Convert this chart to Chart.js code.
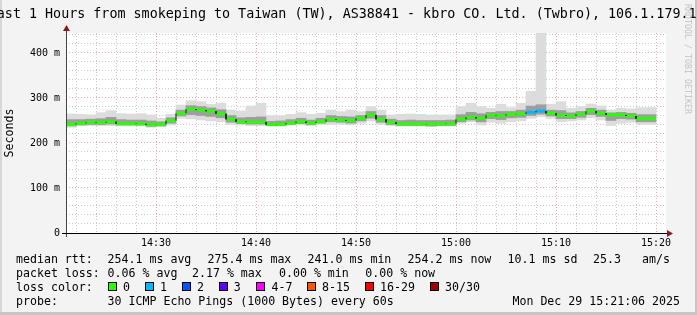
<!DOCTYPE html>
<html>
<head>
<meta charset="utf-8">
<script src="https://cdn.jsdelivr.net/npm/chart.js@4/dist/chart.umd.min.js"></script>
<style>
  body { margin: 0; background: #f3f3f3; }
  #wrap { position: relative; width: 697px; height: 315px; overflow: hidden;
          font-family: "DejaVu Sans Mono", monospace; color: #000; }
  #wrap canvas { position: absolute; left: 0; top: 0; }
  #title { position: absolute; left: -147.8px; width: 997px; top: 6px; text-align: center;
           font-size: 13.36px; line-height: 15px; white-space: pre; }
  #wm { position: absolute; left: 693px; top: 4px; font-size: 8.3px; line-height: 10px;
        color: #c4c4c4; white-space: pre; transform: rotate(90deg); transform-origin: left top; }
  .t { position: absolute; font-size: 11.6px; line-height: 14px; white-space: pre; }
  .sw { position: absolute; top: 282px; width: 7px; height: 7px; border: 1px solid #000; }
</style>
</head>
<body>
<div id="wrap">
  <canvas id="smokeChart" width="697" height="315"></canvas>
  <div id="title">Last 1 Hours from smokeping to Taiwan (TW), AS38841 - kbro CO. Ltd. (Twbro), 106.1.179.100</div>
  <div id="wm">RRDTOOL / TOBI OETIKER</div>

  <div class="t" style="top:252px;left:16px">median rtt:</div>
  <div class="t" style="top:252px;left:107.6px">254.1 ms avg</div>
  <div class="t" style="top:252px;left:207.6px">275.4 ms max</div>
  <div class="t" style="top:252px;left:307.6px">241.0 ms min</div>
  <div class="t" style="top:252px;left:407.6px">254.2 ms now</div>
  <div class="t" style="top:252px;left:507.6px">10.1 ms sd</div>
  <div class="t" style="top:252px;left:593px">25.3</div>
  <div class="t" style="top:252px;left:642px">am/s</div>

  <div class="t" style="top:266px;left:16px">packet loss:</div>
  <div class="t" style="top:266px;left:107.6px">0.06 % avg</div>
  <div class="t" style="top:266px;left:192px">2.17 % max</div>
  <div class="t" style="top:266px;left:279px">0.00 % min</div>
  <div class="t" style="top:266px;left:365.3px">0.00 % now</div>

  <div class="t" style="top:280px;left:16px">loss color:</div>
  <div id="lossLegend"></div>

  <div class="t" style="top:294px;left:16px">probe:</div>
  <div class="t" style="top:294px;left:107.6px">30 ICMP Echo Pings (1000 Bytes) every 60s</div>
  <div class="t" style="top:294px;right:17px">Mon Dec 29 15:21:06 2025</div>
</div>

<script>
// one sample per minute (step start time)
const times = [
  "14:21", "14:22", "14:23", "14:24", "14:25", "14:26", "14:27", "14:28", "14:29", "14:30",
  "14:31", "14:32", "14:33", "14:34", "14:35", "14:36", "14:37", "14:38", "14:39", "14:40",
  "14:41", "14:42", "14:43", "14:44", "14:45", "14:46", "14:47", "14:48", "14:49", "14:50",
  "14:51", "14:52", "14:53", "14:54", "14:55", "14:56", "14:57", "14:58", "14:59", "15:00",
  "15:01", "15:02", "15:03", "15:04", "15:05", "15:06", "15:07", "15:08", "15:09", "15:10",
  "15:11", "15:12", "15:13", "15:14", "15:15", "15:16", "15:17", "15:18", "15:19"
];

// median rtt (ms)
const median = [
  241.5, 243.7, 246.0, 245.2, 247.4, 243.0, 243.0, 242.5, 240.8, 241.5,
  249.7, 266.0, 275.4, 273.0, 270.5, 265.0, 252.6, 247.4, 246.5, 246.5,
  241.0, 241.5, 244.5, 247.4, 244.5, 247.4, 252.6, 251.1, 249.7, 254.8,
  262.3, 252.6, 246.0, 242.3, 242.3, 242.3, 242.0, 242.3, 243.0, 252.6,
  257.1, 254.8, 261.5, 260.8, 263.7, 264.5, 268.2, 271.1, 266.0, 261.5,
  260.0, 263.7, 270.4, 266.0, 262.3, 262.3, 260.0, 254.1, 254.2
];

// smoke: fastest / slowest ping of each round (ms)
const pingMin = [
  234.8, 238.6, 238.6, 238.6, 238.6, 238.6, 238.6, 238.6, 234.8, 236.3,
  240.0, 254.8, 253.4, 251.1, 248.9, 247.4, 241.5, 240.0, 238.6, 238.6,
  237.8, 237.8, 240.0, 240.0, 238.6, 241.5, 241.5, 241.5, 240.0, 243.7,
  248.9, 241.5, 238.6, 237.8, 237.8, 237.8, 236.3, 237.8, 237.8, 243.7,
  247.4, 240.0, 246.0, 243.7, 247.4, 248.9, 254.8, 258.5, 254.8, 247.4,
  248.9, 251.1, 256.3, 251.1, 238.6, 243.7, 246.0, 241.5, 241.5
];
const pingMax = [
  264.5, 263.7, 262.3, 267.4, 271.9, 265.2, 264.5, 265.2, 262.3, 254.8,
  263.7, 284.5, 294.1, 291.9, 286.0, 288.2, 273.4, 271.1, 282.3, 288.2,
  260.8, 260.8, 263.7, 267.4, 263.7, 266.0, 273.4, 269.7, 273.4, 269.7,
  280.8, 273.4, 262.3, 263.7, 264.5, 263.7, 262.3, 262.3, 262.3, 280.8,
  288.2, 280.8, 277.1, 286.0, 278.6, 288.2, 315.0, 520.0, 286.0, 291.9,
  277.1, 280.8, 286.7, 282.3, 273.4, 277.1, 275.6, 278.6, 278.6
];

// denser part of the smoke (ms)
const innerLo = [
  238, 240, 241, 241, 242, 240, 240, 240, 237, 238,
  244, 260, 263, 261, 259, 256, 246, 243, 242, 242,
  239, 239, 241, 243, 241, 244, 247, 246, 244, 249,
  255, 246, 241, 239, 239, 239, 238, 239, 239, 247,
  251, 247, 254, 252, 256, 257, 261, 264, 260, 254,
  254, 257, 263, 259, 250, 254, 253, 247, 247
];
const innerHi = [
  252, 252, 253, 254, 257, 252, 251, 251, 249, 247,
  256, 273, 283, 281, 278, 274, 261, 256, 257, 258,
  248, 249, 252, 255, 251, 255, 261, 259, 258, 261,
  270, 261, 253, 250, 251, 250, 250, 250, 251, 263,
  268, 265, 268, 270, 270, 273, 282, 285, 273, 272,
  267, 270, 277, 273, 267, 268, 266, 263, 263
];

// lost pings per round (of 30)
const lossCount = [
  0, 0, 0, 0, 0, 0, 0, 0, 0, 0,
  0, 0, 0, 0, 0, 0, 0, 0, 0, 0,
  0, 0, 0, 0, 0, 0, 0, 0, 0, 0,
  0, 0, 0, 0, 0, 0, 0, 0, 0, 0,
  0, 0, 0, 0, 0, 0, 1, 1, 0, 0,
  0, 0, 0, 0, 0, 0, 0, 0, 0
];

const lossLabels = ["0", "1", "2", "3", "4-7", "8-15", "16-29", "30/30"];
const lossColors = ["#26ff00", "#00b8ff", "#0059ff", "#5e00ff", "#ff00ff", "#ff5500", "#ff0000", "#a10000"];

const xTickLabels = ["14:30", "14:40", "14:50", "15:00", "15:10", "15:20"];
const yTickValues = [0, 100, 200, 300, 400];
const yTickLabels = ["0", "100 m", "200 m", "300 m", "400 m"];

const X_START = "14:21";
const X_END = "15:21";
const Y_TOP = 444.4;

function toMin(s) {
  const p = s.split(":");
  return +p[0] * 60 + +p[1];
}

function lossIndex(n) {
  if (n <= 3) return n;
  if (n <= 7) return 4;
  if (n <= 15) return 5;
  if (n <= 29) return 6;
  return 7;
}

// loss color legend boxes
const swX = [108, 145.3, 182.2, 219, 256.4, 307, 365.3, 430.2];
const lblX = [123, 160, 197, 233.8, 271.6, 322, 380, 445];
const lossLegend = document.getElementById("lossLegend");
lossLabels.forEach(function (l, i) {
  const sw = document.createElement("div");
  sw.className = "sw";
  sw.style.left = swX[i] + "px";
  sw.style.background = lossColors[i];
  lossLegend.appendChild(sw);
  const tx = document.createElement("div");
  tx.className = "t";
  tx.style.top = "280px";
  tx.style.left = lblX[i] + "px";
  tx.textContent = l;
  lossLegend.appendChild(tx);
});

// step line points: start and end of every minute
const stepPoints = [];
times.forEach(function (t, i) {
  stepPoints.push({ x: toMin(t), y: median[i] });
  stepPoints.push({ x: toMin(t) + 1, y: median[i] });
});

const outerBars = times.map((t, i) => ({ x: toMin(t) + 0.5, y: [pingMin[i], pingMax[i]] }));
const innerBars = times.map((t, i) => ({ x: toMin(t) + 0.5, y: [innerLo[i], innerHi[i]] }));

const gridMinutes = [];
for (let m = toMin(X_START) + 1; m < toMin(X_END); m += 2) gridMinutes.push(m);
const gridMs = [];
for (let v = 20; v < Y_TOP; v += 20) gridMs.push(v);

const MINOR = "rgba(160,160,160,0.55)";
const MAJOR = "rgba(205,90,90,0.5)";
const FONT = "DejaVu Sans Mono";

// background, plot area, axes with arrows
const framePlugin = {
  id: "frame",
  beforeDraw(chart) {
    const ctx = chart.ctx;
    const a = chart.chartArea;
    ctx.save();
    ctx.fillStyle = "#f3f3f3";
    ctx.fillRect(0, 0, chart.width, chart.height);
    ctx.fillStyle = "#d6d6d6";
    ctx.fillRect(0, 0, 2, chart.height);
    ctx.fillStyle = "#c6c6c6";
    ctx.fillRect(chart.width - 2, 0, 2, chart.height);
    ctx.fillRect(0, chart.height - 3, chart.width, 3);
    ctx.fillStyle = "#ffffff";
    ctx.fillRect(a.left, a.top, a.right - a.left, a.bottom - a.top);
    ctx.restore();
  },
  afterDraw(chart) {
    const ctx = chart.ctx;
    const a = chart.chartArea;
    ctx.save();
    ctx.lineWidth = 1;
    ctx.strokeStyle = "#444";
    ctx.beginPath();
    ctx.moveTo(a.left + 0.5, a.bottom + 4);
    ctx.lineTo(a.left + 0.5, a.top - 2);
    ctx.stroke();
    ctx.strokeStyle = "#000";
    ctx.beginPath();
    ctx.moveTo(a.left - 4, a.bottom + 0.5);
    ctx.lineTo(a.right + 2, a.bottom + 0.5);
    ctx.stroke();
    ctx.fillStyle = "#8b1a1a";
    ctx.beginPath();
    ctx.moveTo(a.right + 1, a.bottom - 3);
    ctx.lineTo(a.right + 7, a.bottom + 0.5);
    ctx.lineTo(a.right + 1, a.bottom + 4);
    ctx.closePath();
    ctx.fill();
    ctx.beginPath();
    ctx.moveTo(a.left - 3, a.top - 2);
    ctx.lineTo(a.left + 0.5, a.top - 8);
    ctx.lineTo(a.left + 4, a.top - 2);
    ctx.closePath();
    ctx.fill();
    ctx.restore();
  }
};

new Chart(document.getElementById("smokeChart"), {
  data: {
    datasets: [
      {
        type: "bar",
        data: outerBars,
        backgroundColor: "#dcdcdc",
        borderWidth: 0,
        barThickness: 10,
        grouped: false,
        order: 10
      },
      {
        type: "bar",
        data: innerBars,
        backgroundColor: "#9e9e9e",
        borderWidth: 0,
        barThickness: 10,
        grouped: false,
        order: 9
      },
      {
        type: "line",
        data: stepPoints,
        borderWidth: 3,
        borderCapStyle: "butt",
        pointRadius: 0,
        tension: 0,
        fill: false,
        order: 2,
        segment: {
          borderColor: (c) => c.p0DataIndex % 2 === 0
            ? lossColors[lossIndex(lossCount[c.p0DataIndex / 2])]
            : "rgba(0,0,0,0)"
        }
      },
      {
        type: "line",
        data: stepPoints,
        borderWidth: 1,
        pointRadius: 0,
        tension: 0,
        fill: false,
        order: 1,
        segment: {
          borderColor: (c) => c.p0DataIndex % 2 === 1 ? "#1e1e1e" : "rgba(0,0,0,0)"
        }
      }
    ]
  },
  options: {
    responsive: false,
    animation: false,
    events: [],
    layout: { padding: { left: 0, top: 33, right: 31, bottom: 62 } },
    plugins: {
      legend: { display: false },
      tooltip: { enabled: false },
      title: { display: false }
    },
    scales: {
      x: {
        type: "linear",
        offset: false,
        min: toMin(X_START),
        max: toMin(X_END),
        afterBuildTicks: (s) => { s.ticks = gridMinutes.map((v) => ({ value: v })); },
        afterFit: (s) => { s.height = 20; },
        ticks: {
          autoSkip: false,
          maxRotation: 0,
          padding: 4,
          color: "#000",
          font: { family: FONT, size: 10 },
          callback: (v) => {
            const l = xTickLabels.find((s) => toMin(s) === v);
            return l || "";
          }
        },
        grid: {
          offset: false,
          drawTicks: false,
          lineWidth: 1,
          color: (c) => (c.tick && c.tick.value % 10 === 0 ? MAJOR : MINOR)
        },
        border: { display: false, dash: [1, 2] }
      },
      y: {
        type: "linear",
        min: 0,
        max: Y_TOP,
        afterBuildTicks: (s) => { s.ticks = [{ value: 0 }].concat(gridMs.map((v) => ({ value: v }))); },
        afterFit: (s) => { s.width = 66; },
        ticks: {
          autoSkip: false,
          padding: 6,
          color: "#000",
          font: { family: FONT, size: 10 },
          callback: (v) => {
            const i = yTickValues.indexOf(v);
            return i >= 0 ? yTickLabels[i] : "";
          }
        },
        grid: {
          drawTicks: false,
          lineWidth: 1,
          color: (c) => (c.tick && c.tick.value % 100 === 0 ? MAJOR : MINOR)
        },
        border: { display: false, dash: [1, 2] },
        title: {
          display: true,
          text: "Seconds",
          color: "#000",
          font: { family: FONT, size: 11.6 },
          padding: { top: 3, bottom: 0 }
        }
      }
    }
  },
  plugins: [framePlugin]
});
</script>
</body>
</html>
